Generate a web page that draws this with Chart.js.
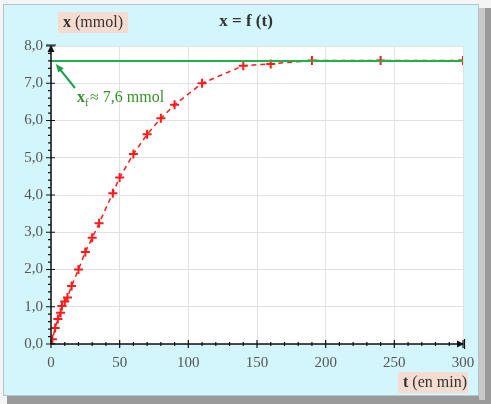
<!DOCTYPE html>
<html>
<head>
<meta charset="utf-8">
<script src="https://cdn.jsdelivr.net/npm/chart.js@4/dist/chart.umd.min.js"></script>
<style>
html,body{margin:0;padding:0;background:#f4f4f4;}
#wrap{position:relative;width:491px;height:404px;}
canvas{display:block;}
</style>
</head>
<body>
<div id="wrap"><canvas id="c" width="491" height="404"></canvas></div>
<script>
// Data (t in min, x in mmol)
const times = [0, 1, 3, 5, 7, 8, 10, 12, 15, 20, 25, 30, 35, 45, 50, 60, 70, 80, 90, 110, 140, 160, 190, 240, 300];
const amounts = [0.0, 0.13, 0.43, 0.67, 0.84, 1.02, 1.14, 1.25, 1.56, 2.0, 2.47, 2.85, 3.24, 4.05, 4.47, 5.1, 5.63, 6.06, 6.42, 7.0, 7.47, 7.52, 7.61, 7.61, 7.61];
const xfValue = 7.6;
const xfRange = [0, 300];
const xTicks = [0, 50, 100, 150, 200, 250, 300];
const yTicks = [0, 1, 2, 3, 4, 5, 6, 7, 8];

const SERIF = '"Liberation Serif","DejaVu Serif",serif';

const framePlugin = {
  id: 'frame',
  beforeDraw(chart) {
    const ctx = chart.ctx;
    ctx.save();
    ctx.fillStyle = '#9a9a9a';
    ctx.fillRect(7, 8, 484, 396);
    ctx.fillStyle = '#c8c8c8';
    ctx.fillRect(479, 8, 6, 392);
    ctx.fillStyle = '#d3f6fc';
    ctx.fillRect(3, 4, 476, 392);
    ctx.strokeStyle = '#b5c4c8';
    ctx.lineWidth = 1;
    ctx.strokeRect(3.5, 4.5, 475, 391);
    const a = chart.chartArea;
    ctx.fillStyle = '#ffffff';
    ctx.fillRect(a.left, a.top, a.right - a.left, a.bottom - a.top);
    ctx.restore();
  },
  afterDatasetsDraw(chart) {
    const ctx = chart.ctx;
    const xs = chart.scales.x, ys = chart.scales.y;
    const a = chart.chartArea;
    ctx.save();
    ctx.strokeStyle = '#111';
    ctx.fillStyle = '#111';
    ctx.lineWidth = 1.5;
    ctx.beginPath();
    ctx.moveTo(a.left, a.bottom); ctx.lineTo(a.right, a.bottom);
    ctx.moveTo(a.left, a.bottom); ctx.lineTo(a.left, a.top);
    ctx.stroke();
    ctx.beginPath();
    ctx.moveTo(a.right + 1, a.bottom); ctx.lineTo(a.right - 6, a.bottom - 3.5); ctx.lineTo(a.right - 6, a.bottom + 3.5); ctx.closePath(); ctx.fill();
    ctx.beginPath();
    ctx.moveTo(a.left, a.top - 1); ctx.lineTo(a.left - 3.5, a.top + 6); ctx.lineTo(a.left + 3.5, a.top + 6); ctx.closePath(); ctx.fill();
    ctx.lineWidth = 1.2;
    ctx.beginPath();
    ctx.moveTo(a.right + 1.5, a.bottom - 5); ctx.lineTo(a.right + 1.5, a.bottom + 5);
    ctx.moveTo(a.left - 5, a.top - 1); ctx.lineTo(a.left + 5, a.top - 1);
    ctx.stroke();
    ctx.lineWidth = 1.2;
    ctx.beginPath();
    for (let v = 0; v <= 300; v += 10) {
      const px = xs.getPixelForValue(v);
      const major = v % 50 === 0;
      ctx.moveTo(px, a.bottom - (major ? 4 : 2)); ctx.lineTo(px, a.bottom + (major ? 4 : 2));
    }
    for (let i = 0; i <= 40; i++) {
      const v = i * 0.2;
      const py = ys.getPixelForValue(v);
      const major = i % 5 === 0;
      ctx.moveTo(a.left - (major ? 5 : 3), py); ctx.lineTo(a.left + (major ? 4 : 0), py);
    }
    ctx.stroke();
    ctx.restore();
  },
  afterDraw(chart) {
    const ctx = chart.ctx;
    const xs = chart.scales.x, ys = chart.scales.y;
    ctx.save();
    ctx.fillStyle = '#333';
    ctx.font = 'bold 17px ' + SERIF;
    ctx.textAlign = 'center';
    ctx.textBaseline = 'middle';
    ctx.fillText('x = f (t)', 246, 22);
    ctx.fillStyle = '#f6dcd0';
    ctx.fillRect(58, 12, 70, 21);
    ctx.fillStyle = '#333';
    ctx.textAlign = 'left';
    ctx.font = 'bold 16px ' + SERIF;
    ctx.fillText('x', 63, 23);
    let w = ctx.measureText('x').width;
    ctx.font = '16px ' + SERIF;
    ctx.fillText(' (mmol)', 63 + w, 23);
    ctx.fillStyle = '#f6dcd0';
    ctx.fillRect(398, 372, 70, 21);
    ctx.fillStyle = '#333';
    ctx.font = 'bold 16px ' + SERIF;
    ctx.fillText('t', 403, 383);
    w = ctx.measureText('t').width;
    ctx.font = '16px ' + SERIF;
    ctx.fillText(' (en min)', 403 + w, 383);
    const green = '#3b8e2c';
    ctx.fillStyle = green;
    ctx.font = 'bold 16px ' + SERIF;
    ctx.fillText('x', 77, 98);
    const wx = ctx.measureText('x').width;
    ctx.font = '11px ' + SERIF;
    ctx.fillText('f', 77 + wx, 103);
    ctx.font = '16px ' + SERIF;
    ctx.fillText('\u2248 7,6 mmol', 77 + wx + 5, 98);
    const tx = xs.getPixelForValue(3.5), ty = ys.getPixelForValue(xfValue) + 3;
    const sx = 75, sy = 88;
    ctx.strokeStyle = '#1aa04a';
    ctx.fillStyle = '#1aa04a';
    ctx.lineWidth = 2;
    ctx.beginPath(); ctx.moveTo(sx, sy); ctx.lineTo(tx + 3, ty + 4); ctx.stroke();
    const ang = Math.atan2(ty - sy, tx - sx);
    ctx.beginPath();
    ctx.moveTo(tx, ty);
    ctx.lineTo(tx - 9 * Math.cos(ang - 0.4), ty - 9 * Math.sin(ang - 0.4));
    ctx.lineTo(tx - 9 * Math.cos(ang + 0.4), ty - 9 * Math.sin(ang + 0.4));
    ctx.closePath(); ctx.fill();
    ctx.restore();
  }
};

new Chart(document.getElementById('c'), {
  type: 'scatter',
  data: {
    datasets: [
      {
        label: 'xf',
        data: xfRange.map(t => ({x: t, y: xfValue})),
        showLine: true,
        borderColor: '#1fb04a',
        borderWidth: 2,
        pointRadius: 0,
        order: 0
      },
      {
        label: 'x',
        data: times.map((t, i) => ({x: t, y: amounts[i]})),
        showLine: true,
        borderColor: '#ff1a1a',
        borderWidth: 1.5,
        borderDash: [5, 4],
        pointStyle: 'cross',
        pointRadius: 4.5,
        pointBorderWidth: 2,
        pointBorderColor: '#ff1a1a',
        pointBackgroundColor: '#ff1a1a',
        order: 1
      }
    ]
  },
  options: {
    responsive: false,
    animation: false,
    devicePixelRatio: 1,
    layout: { padding: { top: 46, right: 28, left: 0, bottom: 0 } },
    plugins: { legend: { display: false }, tooltip: { enabled: false } },
    scales: {
      x: {
        type: 'linear', min: 0, max: 300,
        afterFit(s) { s.height = 60; },
        afterBuildTicks(s) { s.ticks = xTicks.map(v => ({value: v})); },
        grid: { color: '#e2e2e2', lineWidth: 1, drawTicks: false },
        border: { display: false },
        ticks: { color: '#555', padding: 10, font: { family: SERIF, size: 15 }, maxRotation: 0, callback: v => String(v) }
      },
      y: {
        type: 'linear', min: 0, max: 8,
        afterFit(s) { s.width = 51; },
        afterBuildTicks(s) { s.ticks = yTicks.map(v => ({value: v})); },
        grid: { color: '#e2e2e2', lineWidth: 1, drawTicks: false },
        border: { display: false },
        ticks: { color: '#555', padding: 8, font: { family: SERIF, size: 15 }, callback: v => v.toFixed(1).replace('.', ',') }
      }
    }
  },
  plugins: [framePlugin]
});
</script>
</body>
</html>
